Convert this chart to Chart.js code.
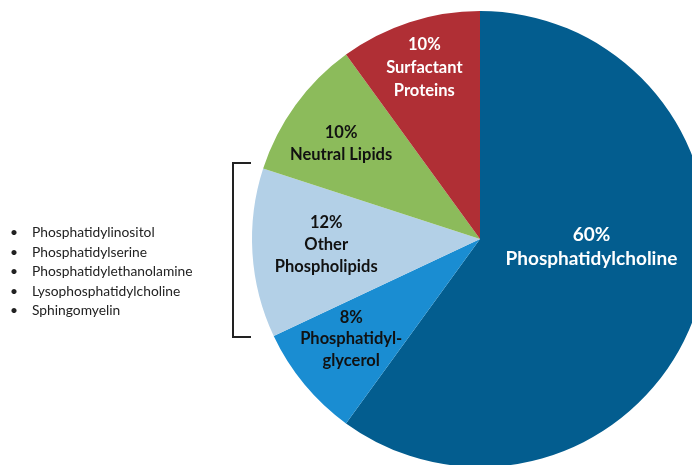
<!DOCTYPE html>
<html>
<head>
<meta charset="utf-8">
<script src="https://cdn.jsdelivr.net/npm/chart.js@4/dist/chart.umd.min.js"></script>
<style>
  html, body { margin: 0; padding: 0; background: #fff; width: 692px; height: 465px; overflow: hidden; }
  #wrap { position: relative; width: 692px; height: 465px; overflow: hidden; }
  #pie { position: absolute; left: 0; top: 0; }
  #subtypes {
    position: absolute; left: 8px; top: 222px; margin: 0; padding: 0; list-style: none;
    font-family: Lato, "Open Sans", sans-serif; font-size: 13.8px; line-height: 19.6px; color: #222;
  }
  #subtypes li { position: relative; padding-left: 24px; }
  #subtypes li::before { content: "\2022"; position: absolute; left: 2px; top: 0; }
  #bracket {
    position: absolute; left: 232px; top: 162px; width: 19px; height: 176px;
    border: 2px solid #222; border-right: none; box-sizing: border-box;
  }
</style>
</head>
<body>
<div id="wrap">
  <canvas id="pie" width="960" height="480"></canvas>
  <ul id="subtypes"></ul>
  <div id="bracket"></div>
</div>
<script>
// Surfactant composition, clockwise from 12 o'clock
const categories = ["Phosphatidylcholine", "Phosphatidylglycerol", "Other Phospholipids", "Neutral Lipids", "Surfactant Proteins"];
const labelLines = [["Phosphatidylcholine"], ["Phosphatidyl-", "glycerol"], ["Other", "Phospholipids"], ["Neutral Lipids"], ["Surfactant", "Proteins"]];
const percentages = [60, 8, 12, 10, 10];
const otherPhospholipids = ["Phosphatidylinositol", "Phosphatidylserine", "Phosphatidylethanolamine", "Lysophosphatidylcholine", "Sphingomyelin"];

const sliceColors = ["#035d8f", "#1a8dd2", "#b3d0e7", "#8cbb5b", "#b02f35"];
const textColors = ["#ffffff", "#111111", "#111111", "#111111", "#ffffff"];
// label anchor: fraction of the radius and angular shift (degrees) from the slice middle
const labelAnchor = [
  { frac: 0.49, shift: -14, size: 19, lh: 24 },
  { frac: 0.715, shift: 1.8, size: 16.5, lh: 21.5 },
  { frac: 0.675, shift: 1.4, size: 16.5, lh: 22 },
  { frac: 0.74, shift: -1.4, size: 16.5, lh: 22 },
  { frac: 0.79, shift: 0, size: 16.5, lh: 23 }
];

// bullet list of the phospholipid subclasses
const ul = document.getElementById("subtypes");
otherPhospholipids.forEach(name => {
  const li = document.createElement("li");
  li.textContent = name;
  ul.appendChild(li);
});

const sliceLabels = {
  id: "sliceLabels",
  afterDatasetsDraw(chart) {
    const ctx = chart.ctx;
    const meta = chart.getDatasetMeta(0);
    meta.data.forEach((arc, i) => {
      const a = labelAnchor[i];
      const mid = (arc.startAngle + arc.endAngle) / 2 + a.shift * Math.PI / 180;
      const r = arc.outerRadius * a.frac;
      const cx = arc.x + Math.cos(mid) * r;
      const cy = arc.y + Math.sin(mid) * r;
      const lines = [percentages[i] + "%", ...labelLines[i]];
      ctx.save();
      ctx.fillStyle = textColors[i];
      ctx.font = "bold " + a.size + "px Lato, 'Open Sans', sans-serif";
      ctx.textAlign = "center";
      ctx.textBaseline = "middle";
      const top = cy - (lines.length - 1) * a.lh / 2;
      lines.forEach((t, k) => ctx.fillText(t, cx, top + k * a.lh));
      ctx.restore();
    });
  }
};

new Chart(document.getElementById("pie"), {
  type: "pie",
  data: {
    labels: categories,
    datasets: [{
      data: percentages,
      backgroundColor: sliceColors,
      borderWidth: 0,
      radius: 228
    }]
  },
  options: {
    responsive: false,
    animation: false,
    layout: { padding: { top: 0, bottom: 2, left: 0, right: 0 } },
    plugins: { legend: { display: false }, tooltip: { enabled: false } }
  },
  plugins: [sliceLabels]
});
</script>
</body>
</html>
